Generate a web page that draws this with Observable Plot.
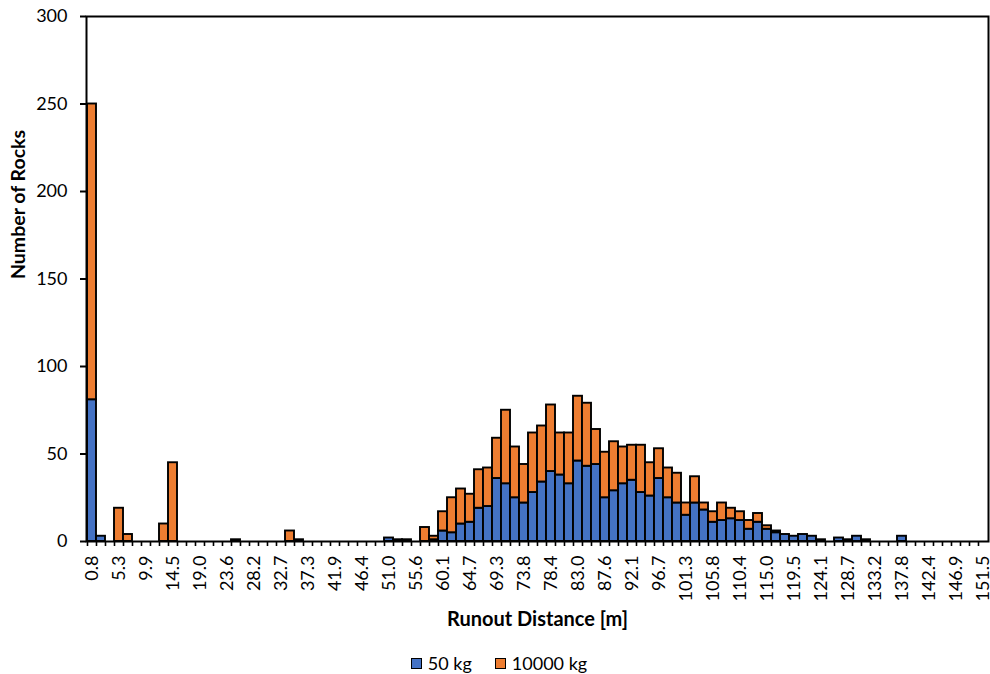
<!DOCTYPE html>
<html><head><meta charset="utf-8">
<script src="https://cdn.jsdelivr.net/npm/d3@7"></script>
<script src="https://cdn.jsdelivr.net/npm/@observablehq/plot@0.6"></script>
<style>
body{margin:0;background:#fff;font-family:Lato,"Open Sans",sans-serif;}
#chart svg{display:block;}
#legend{display:flex;justify-content:center;align-items:center;gap:23px;padding-top:13px;font-size:18px;line-height:20px;color:#000;padding-left:8px;}
.item{display:flex;align-items:center;gap:6px;}
.sw{width:11px;height:11px;box-sizing:border-box;border:1.5px solid #000;display:inline-block;}
</style></head><body>
<div id="chart"></div>
<div id="legend"></div>
<script>
const categories = ["0.8","2.3","3.8","5.3","6.9","8.4","9.9","11.4","12.9","14.5",
"16.0","17.5","19.0","20.6","22.1","23.6","25.1","26.6","28.2","29.7",
"31.2","32.7","34.3","35.8","37.3","38.8","40.3","41.9","43.4","44.9",
"46.4","48.0","49.5","51.0","52.5","54.1","55.6","57.1","58.6","60.1",
"61.7","63.2","64.7","66.2","67.8","69.3","70.8","72.3","73.8","75.4",
"76.9","78.4","79.9","81.5","83.0","84.5","86.0","87.6","89.1","90.6",
"92.1","93.6","95.2","96.7","98.2","99.7","101.3","102.8","104.3","105.8",
"107.3","108.9","110.4","111.9","113.4","115.0","116.5","118.0","119.5","121.0",
"122.6","124.1","125.6","127.1","128.7","130.2","131.7","133.2","134.8","136.3",
"137.8","139.3","140.8","142.4","143.9","145.4","146.9","148.5","150.0","151.5"];

const tickLabels = ["0.8","5.3","9.9","14.5","19.0","23.6","28.2","32.7","37.3","41.9",
"46.4","51.0","55.6","60.1","64.7","69.3","73.8","78.4","83.0","87.6","92.1","96.7",
"101.3","105.8","110.4","115.0","119.5","124.1","128.7","133.2","137.8","142.4","146.9","151.5"];

const series = ["50 kg", "10000 kg"];
const colors = ["#4472C4", "#ED7D31"];

const kg50 = [81,3,0,0,0,0,0,0,0,0,
0,0,0,0,0,0,1,0,0,0,
0,0,0,1,0,0,0,0,0,0,
0,0,0,2,1,1,0,0,1,6,
5,10,11,19,20,36,33,25,22,28,
34,40,38,33,46,43,44,25,29,33,
35,28,26,36,25,22,15,22,18,11,
12,13,12,7,11,7,5,4,3,4,
3,1,0,2,1,3,1,0,0,0,
3,0,0,0,0,0,0,0,0,0];

const kg10000 = [169,0,0,19,4,0,0,0,10,45,
0,0,0,0,0,0,0,0,0,0,
0,0,6,0,0,0,0,0,0,0,
0,0,0,0,0,0,0,8,2,11,
20,20,16,22,22,23,42,29,22,34,
32,38,24,29,37,36,20,26,28,21,
20,27,19,17,17,17,7,15,4,6,
10,6,5,5,5,2,1,0,0,0,
0,0,0,0,0,0,0,0,0,0,
0,0,0,0,0,0,0,0,0,0];

const yTicks = [0, 50, 100, 150, 200, 250, 300];
const xTitle = "Runout Distance [m]";
const yTitle = "Number of Rocks";

const rows = [];
[kg50, kg10000].forEach((vals, k) => {
  categories.forEach((c, i) => {
    if (vals[i] > 0) rows.push({cat: c, series: series[k], count: vals[i]});
  });
});

const W = 990, H = 640, ML = 86, MR = 2, MT = 16, MB = H - 541;
const bw = (W - ML - MR) / categories.length;

const chart = Plot.plot({
  width: W, height: H,
  marginLeft: ML, marginRight: MR, marginTop: MT, marginBottom: MB,
  style: {fontFamily: "Lato, 'Open Sans', sans-serif", fontSize: "18px", color: "#000", background: "#fff"},
  x: {type: "band", domain: categories, padding: 0},
  y: {domain: [0, 300]},
  color: {domain: series, range: colors},
  marks: [
    Plot.barY(rows, {x: "cat", y: "count", fill: "series", stroke: "black", strokeWidth: 1.9, inset: 0}),
    Plot.frame({stroke: "black", strokeWidth: 2}),
    Plot.axisY({ticks: yTicks, tickSize: 6, tickPadding: 13, strokeWidth: 2, label: null}),
    Plot.axisX({ticks: categories, tickFormat: () => "", tickSize: 5, dx: -bw / 2, strokeWidth: 1.6, label: null}),
    Plot.axisX({ticks: tickLabels, tickSize: 0, tickPadding: 14, tickRotate: -90, label: null}),
    Plot.text([xTitle], {frameAnchor: "bottom", dy: 84, text: d => d, fontWeight: "bold", fontSize: 20}),
    Plot.text([yTitle], {frameAnchor: "left", dx: -68, rotate: -90, text: d => d, fontWeight: "bold", fontSize: 19.5})
  ]
});
document.getElementById("chart").appendChild(chart);

const legend = document.getElementById("legend");
series.forEach((s, k) => {
  const item = document.createElement("div");
  item.className = "item";
  const sw = document.createElement("span");
  sw.className = "sw";
  sw.style.background = colors[k];
  const t = document.createElement("span");
  t.textContent = s;
  item.appendChild(sw);
  item.appendChild(t);
  legend.appendChild(item);
});
</script>
</body></html>
